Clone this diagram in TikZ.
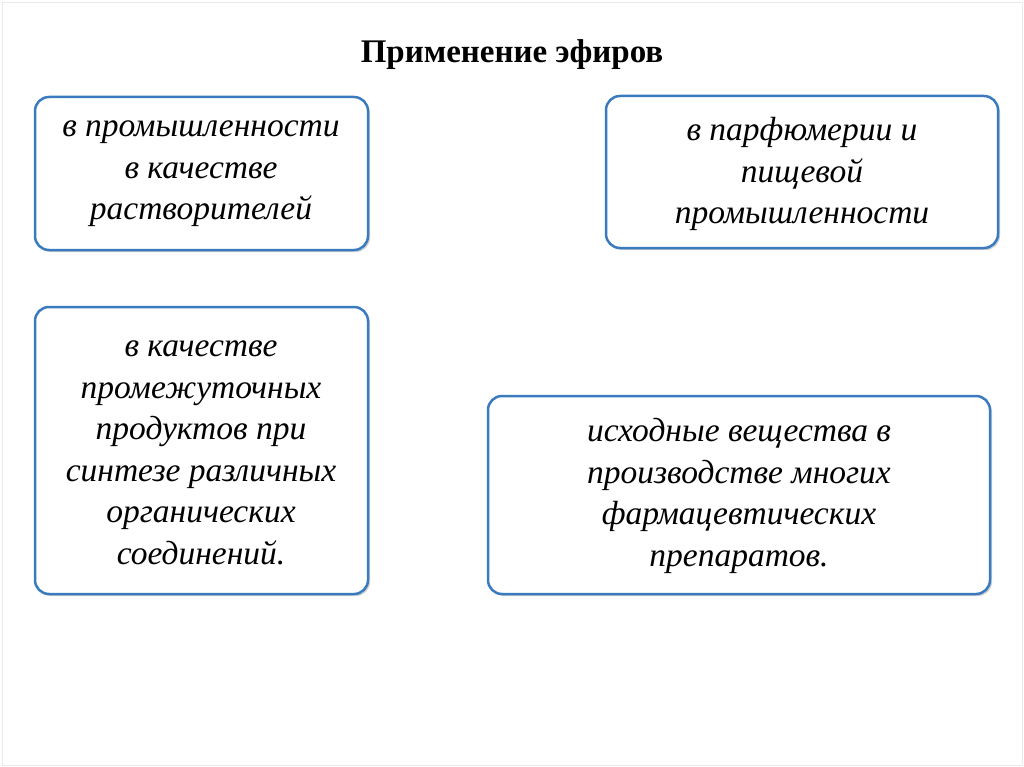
\documentclass[tikz,border=0pt]{standalone}
\usepackage{fontspec}
\setmainfont{Liberation Serif}
\usetikzlibrary{shadows}
\definecolor{bord}{HTML}{3A7BBF}
\begin{document}
\begin{tikzpicture}[x=1pt,y=-1pt,
  box/.style={draw=bord,line width=2.5pt,rounded corners=14pt,fill=white,
    drop shadow={shadow xshift=2pt,shadow yshift=-2pt,opacity=0.35}},
  txt/.style={align=center,font=\fontsize{33.5}{41.5}\selectfont\itshape}]
\useasboundingbox (0,0) rectangle (1024,767);
\fill[white] (0,0) rectangle (1024,767);
\draw[black!8] (2,2) rectangle (1022,765);
\node[font=\fontsize{33}{38}\selectfont\bfseries] (title) at (512,55) {Применение эфиров};
\draw[box] (35,97) rectangle (368,250);
\node[txt] (a) at (201,174) {в промышленности\\в качестве\\растворителей};
\draw[box] (606,96) rectangle (998,248);
\node[txt] (b) at (802,174) {в парфюмерии и\\пищевой\\промышленности};
\draw[box] (35,307) rectangle (368,594);
\node[txt] (c) at (201,453) {в качестве\\промежуточных\\продуктов при\\синтезе различных\\органических\\соединений.};
\draw[box] (488,396) rectangle (990,594);
\node[txt] (d) at (739,496) {исходные вещества в\\производстве многих\\фармацевтических\\препаратов.};
\end{tikzpicture}
\end{document}
